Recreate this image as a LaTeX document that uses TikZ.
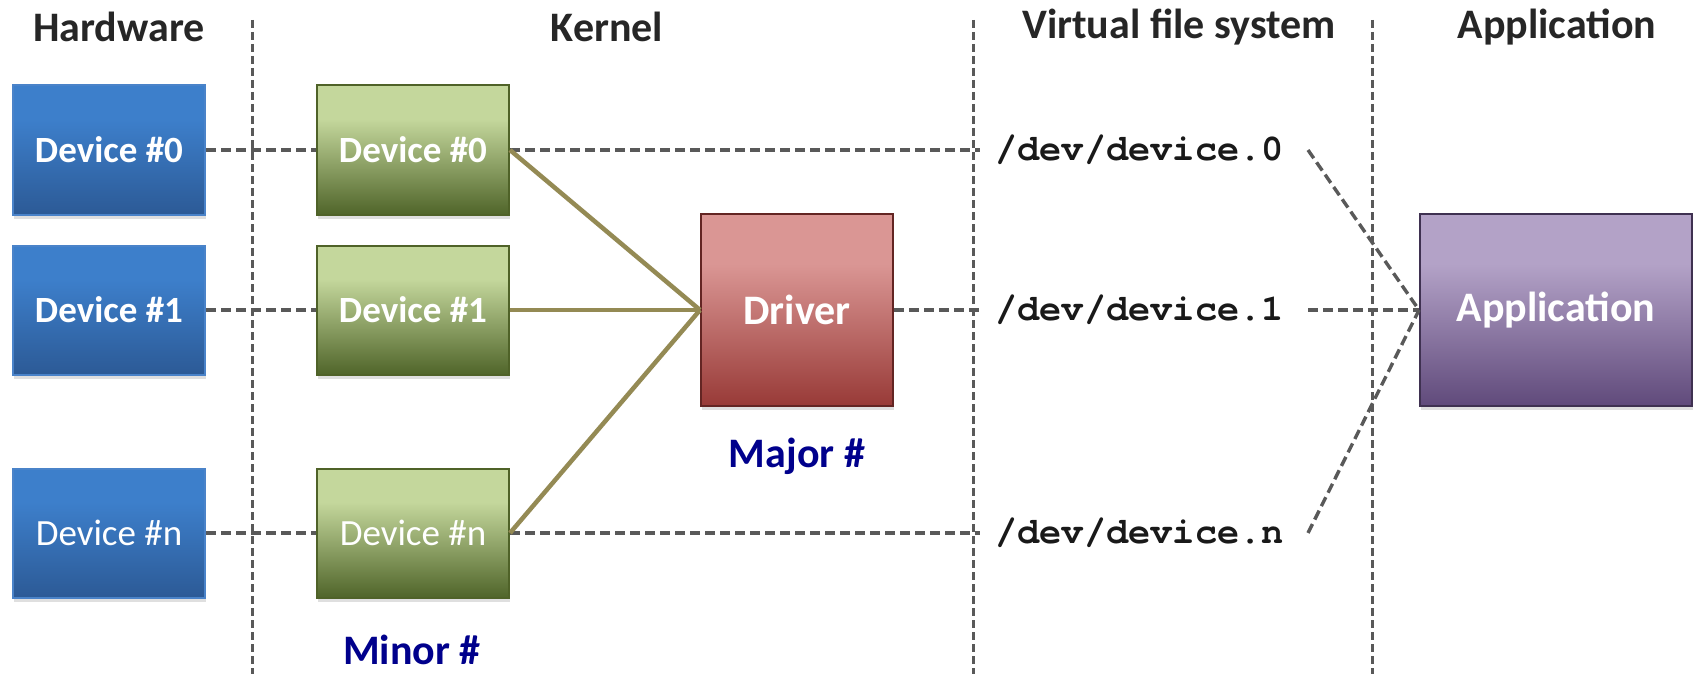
\documentclass[tikz,border=0pt]{standalone}
\usepackage{fontspec}
\setmainfont{Carlito}
\newfontfamily\codefont{texgyrecursor}[Extension=.otf, UprightFont=*-regular, BoldFont=*-bold]
\usetikzlibrary{shadows}

% palette
\definecolor{bluetop}{HTML}{3D7FCB}
\definecolor{bluebot}{HTML}{2C5A96}
\definecolor{blueedge}{HTML}{4A83C9}
\definecolor{greentop}{HTML}{C4D79C}
\definecolor{greenbot}{HTML}{50652A}
\definecolor{greenedge}{HTML}{4F6228}
\definecolor{redtop}{HTML}{DA9694}
\definecolor{redbot}{HTML}{983A37}
\definecolor{rededge}{HTML}{632523}
\definecolor{purptop}{HTML}{B3A2C7}
\definecolor{purpbot}{HTML}{604A7B}
\definecolor{purpedge}{HTML}{3F3151}
\definecolor{linkolive}{HTML}{948A54}
\definecolor{dashgray}{HTML}{595959}
\definecolor{headgray}{HTML}{262626}
\definecolor{labelnavy}{HTML}{00008C}

% light upper quarter, then a linear fade to the dark bottom
\pgfdeclareverticalshading{blueshade}{100bp}{color(0bp)=(bluebot); color(25bp)=(bluebot); color(62bp)=(bluetop); color(100bp)=(bluetop)}
\pgfdeclareverticalshading{greenshade}{100bp}{color(0bp)=(greenbot); color(25bp)=(greenbot); color(62bp)=(greentop); color(100bp)=(greentop)}
\pgfdeclareverticalshading{redshade}{100bp}{color(0bp)=(redbot); color(25bp)=(redbot); color(62bp)=(redtop); color(100bp)=(redtop)}
\pgfdeclareverticalshading{purpshade}{100bp}{color(0bp)=(purpbot); color(25bp)=(purpbot); color(62bp)=(purptop); color(100bp)=(purptop)}

\tikzset{
  box/.style={minimum width=192pt, minimum height=129pt, inner sep=0pt,
    line width=2pt, text=white,
    drop shadow={shadow xshift=1pt, shadow yshift=-4pt, opacity=0.25}},
  boldlabel/.style={font=\fontsize{37}{44}\selectfont\bfseries},
  plainlabel/.style={font=\fontsize{37}{44}\selectfont},
  hwbox/.style={box, draw=blueedge, shading=blueshade},
  krbox/.style={box, draw=greenedge, shading=greenshade},
  bigbox/.style={box, minimum height=192pt, font=\fontsize{42}{50}\selectfont\bfseries},
  header/.style={font=\fontsize{42}{50}\selectfont\bfseries, text=headgray},
  numlabel/.style={font=\fontsize{42}{50}\selectfont\bfseries, text=labelnavy},
  devpath/.style={font=\codefont\fontsize{37}{44}\selectfont\bfseries, text=black!90,
    anchor=west, inner xsep=15pt, inner ysep=0pt},
  link/.style={dashgray, line width=3.4pt, dash pattern=on 10pt off 5pt},
  sep/.style={dashgray, line width=3pt, dash pattern=on 8pt off 4pt},
  bind/.style={linkolive, line width=4.5pt}
}

\begin{document}
\begin{tikzpicture}[x=1pt, y=-1pt]
\useasboundingbox (0,0) rectangle (1693,674);

% column separators
\coordinate (s1t) at (252,20);  \coordinate (s1b) at (252,674);
\coordinate (s2t) at (973,20);  \coordinate (s2b) at (973,674);
\coordinate (s3t) at (1372,20); \coordinate (s3b) at (1372,674);
\draw[sep] (s1t) -- (s1b);
\draw[sep] (s2t) -- (s2b);
\draw[sep] (s3t) -- (s3b);

% column titles
\node[header] (hHw)  at (119,27)  {Hardware};
\node[header] (hKr)  at (607,27)  {Kernel};
\node[header] (hVfs) at (1179,27) {Virtual file system};
\node[header] (hApp) at (1557,27) {Application};

% hardware devices
\node[hwbox, boldlabel]  (hw0) at (109,150) {Device \#0};
\node[hwbox, boldlabel]  (hw1) at (109,310) {Device \#1};
\node[hwbox, plainlabel] (hwn) at (109,533) {Device \#n};

% kernel device objects
\node[krbox, boldlabel]  (kr0) at (413,150) {Device \#0};
\node[krbox, boldlabel]  (kr1) at (413,310) {Device \#1};
\node[krbox, plainlabel] (krn) at (413,533) {Device \#n};

% driver and application
\node[bigbox, draw=rededge, shading=redshade] (drv) at (797,310) {Driver};
\node[bigbox, draw=purpedge, shading=purpshade, minimum width=272pt] (app) at (1556,310) {Application};

% device files
\node[devpath] (f0) at (980,150) {/dev/device.0};
\node[devpath] (f1) at (980,310) {/dev/device.1};
\node[devpath] (fn) at (980,533) {/dev/device.n};

% number labels
\node[numlabel] (minor) at (412,650) {Minor \#};
\node[numlabel] (major) at (797,456) {Major \#};

% hardware to kernel
\draw[link] (hw0.east) -- (kr0.west);
\draw[link] (hw1.east) -- (kr1.west);
\draw[link] (hwn.east) -- (krn.west);

% kernel to device files
\draw[link] (kr0.east) -- (f0.west);
\draw[link] (drv.east) -- (f1.west);
\draw[link] (krn.east) -- (fn.west);

% device objects bound to the driver
\draw[bind] (kr0.east) -- (drv.west);
\draw[bind] (kr1.east) -- (drv.west);
\draw[bind] (krn.east) -- (drv.west);

% device files opened by the application
\draw[link] ([xshift=9pt]f0.east) -- (app.west);
\draw[link] ([xshift=9pt]f1.east) -- (app.west);
\draw[link] ([xshift=9pt]fn.east) -- (app.west);
\end{tikzpicture}
\end{document}
